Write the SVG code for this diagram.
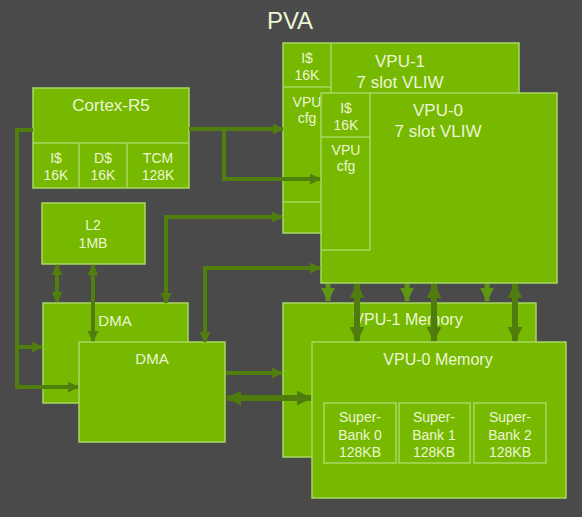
<svg xmlns="http://www.w3.org/2000/svg" width="582" height="517" viewBox="0 0 582 517">
<defs>
<style>
.box{fill:#76b900;stroke:#a9d862;stroke-width:1.5}
.cell{fill:none;stroke:#a9d862;stroke-width:1.5}
.t{font-family:"Liberation Sans","DejaVu Sans",sans-serif;fill:#ecf6d4;text-anchor:middle}
.s14{font-size:14px}
.s15{font-size:15px}
.s16{font-size:16px}
.s17{font-size:17px}
.c{fill:none;stroke:#517f0d;stroke-width:4}
.ct{fill:none;stroke:#4f7c0c;stroke-width:6}
.cl{fill:none;stroke:#5f9612;stroke-width:5}
</style>
<marker id="a" viewBox="0 0 10 10" refX="9" refY="5" markerUnits="userSpaceOnUse" markerWidth="11" markerHeight="11" orient="auto-start-reverse">
<path d="M0,0 L10,5 L0,10 z" fill="#517f0d"/>
</marker>
<marker id="at" viewBox="0 0 10 10" refX="9.5" refY="5" markerUnits="userSpaceOnUse" markerWidth="15" markerHeight="15" orient="auto-start-reverse">
<path d="M0,0 L10,5 L0,10 z" fill="#4f7c0c"/>
</marker>
<marker id="al" viewBox="0 0 10 10" refX="9.5" refY="5" markerUnits="userSpaceOnUse" markerWidth="14" markerHeight="14" orient="auto">
<path d="M0,0 L10,5 L0,10 z" fill="#5f9612"/>
</marker>
</defs>
<rect width="582" height="517" fill="#4a4a4b"/>
<text class="t" x="290" y="29" style="font-size:24px">PVA</text>

<g id="cortex">
<rect class="box" x="33" y="88" width="156" height="100"/>
<path class="cell" d="M33,143 H189 M79,143 V188 M127,143 V188"/>
<text class="t s17" x="111" y="111">Cortex-R5</text>
<text class="t s14" x="56" y="163">I$</text><text class="t s14" x="56" y="180">16K</text>
<text class="t s14" x="103" y="163">D$</text><text class="t s14" x="103" y="180">16K</text>
<text class="t s14" x="158" y="163">TCM</text><text class="t s14" x="158" y="180">128K</text>
</g>

<g id="l2">
<rect class="box" x="42" y="203" width="103" height="61"/>
<text class="t s14" x="93" y="230">L2</text>
<text class="t s14" x="93" y="248">1MB</text>
</g>

<g id="vpu1">
<rect class="box" x="283" y="43" width="236" height="190"/>
<path class="cell" d="M283,87 H331 M331,43 V202 M283,202 H331"/>
<text class="t s14" x="307" y="63">I$</text><text class="t s14" x="307" y="80">16K</text>
<text class="t s14" x="307" y="107">VPU</text><text class="t s14" x="307" y="123">cfg</text>
<text class="t s17" x="400" y="67">VPU-1</text>
<text class="t s17" x="400" y="88">7 slot VLIW</text>
</g>

<g id="vpu0">
<rect class="box" x="321" y="93" width="236" height="190"/>
<path class="cell" d="M321,137 H370 M370,93 V250 M321,250 H370"/>
<text class="t s14" x="346" y="113">I$</text><text class="t s14" x="346" y="130">16K</text>
<text class="t s14" x="346" y="155">VPU</text><text class="t s14" x="346" y="171">cfg</text>
<text class="t s17" x="438" y="116">VPU-0</text>
<text class="t s17" x="438" y="137">7 slot VLIW</text>
</g>

<g id="vpu1mem">
<rect class="box" x="283" y="303" width="253" height="154"/>
<text class="t s16" x="408" y="325">VPU-1 Memory</text>
</g>

<g id="vpu0mem">
<rect class="box" x="312" y="342" width="254" height="156"/>
<text class="t s16" x="438" y="365">VPU-0 Memory</text>
<rect class="cell" x="324" y="403" width="72" height="60"/>
<rect class="cell" x="399" y="403" width="71" height="60"/>
<rect class="cell" x="474" y="403" width="72" height="60"/>
<text class="t s14" x="360" y="422">Super-</text><text class="t s14" x="360" y="440">Bank 0</text><text class="t s14" x="360" y="457">128KB</text>
<text class="t s14" x="434" y="422">Super-</text><text class="t s14" x="434" y="440">Bank 1</text><text class="t s14" x="434" y="457">128KB</text>
<text class="t s14" x="510" y="422">Super-</text><text class="t s14" x="510" y="440">Bank 2</text><text class="t s14" x="510" y="457">128KB</text>
</g>

<g id="dma1">
<rect class="box" x="43" y="303" width="145" height="100"/>
<text class="t s15" x="115" y="326">DMA</text>
</g>

<g id="dma0">
<rect class="box" x="79" y="342" width="146" height="100"/>
<text class="t s15" x="152" y="364">DMA</text>
</g>

<g id="connectors">
<path class="c" d="M33,130 H17 V387 H78" marker-end="url(#a)"/>
<path class="c" d="M17,347 H42" marker-end="url(#a)"/>
<path class="c" d="M189,129 H283" marker-end="url(#a)"/>
<path class="c" d="M224,129 V179 H320" marker-end="url(#a)"/>
<path class="c" d="M166,303 V217 H282" marker-start="url(#a)" marker-end="url(#a)"/>
<path class="c" d="M205,342 V268 H320" marker-start="url(#a)" marker-end="url(#a)"/>
<path class="c" d="M57,265 V302" marker-start="url(#a)" marker-end="url(#a)"/>
<path class="c" d="M93,265 V341" marker-start="url(#a)" marker-end="url(#a)"/>
<path class="c" d="M226,373 H282" marker-end="url(#a)"/>
<path class="ct" d="M227,398 H311" marker-start="url(#at)" marker-end="url(#at)"/>
<path class="cl" d="M328,284 V301" marker-end="url(#al)"/>
<path class="cl" d="M407,284 V301" marker-end="url(#al)"/>
<path class="cl" d="M487,284 V301" marker-end="url(#al)"/>
<path class="ct" d="M357,284 V341" marker-start="url(#at)" marker-end="url(#at)"/>
<path class="ct" d="M434,284 V341" marker-start="url(#at)" marker-end="url(#at)"/>
<path class="ct" d="M515,284 V341" marker-start="url(#at)" marker-end="url(#at)"/>
</g>
</svg>
